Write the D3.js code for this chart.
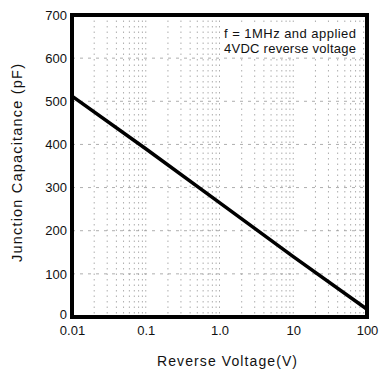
<!DOCTYPE html>
<html><head><meta charset="utf-8">
<script src="https://cdn.jsdelivr.net/npm/d3@7"></script>
<style>body{margin:0;background:#fff}text{font-family:"Liberation Sans",Arial,sans-serif;fill:#111}</style>
</head><body>
<script>
const voltage = [0.01, 0.1, 1, 10, 100];
const capacitance = [512, 390, 265, 140, 18];
const xTicks = [0.01, 0.1, 1, 10, 100];
const xTickLabels = ["0.01", "0.1", "1.0", "10", "100"];
const yTicks = [0, 100, 200, 300, 400, 500, 600, 700];
const noteLines = ["f = 1MHz and applied", "4VDC reverse voltage"];

const W = 379, H = 383;
const svg = d3.select("body").append("svg").attr("width", W).attr("height", H);
const x = d3.scaleLog().domain([0.01, 100]).range([72, 367]);
const y = d3.scaleLinear().domain([0, 700]).range([317, 15]);
const F = "Liberation Sans, Arial, sans-serif";

// grid
const g = svg.append("g");
const minor = [];
for (let d = 0.01; d < 100; d *= 10) for (let k = 1; k < 10; k++) minor.push(d * k);
g.selectAll("line.v").data(minor.filter(v => v > 0.01)).enter().append("line")
  .attr("x1", d => x(d)).attr("x2", d => x(d)).attr("y1", y(700)).attr("y2", y(0))
  .attr("stroke", "#999").attr("stroke-width", 0.8).attr("stroke-dasharray", "1.5,4");
g.selectAll("line.h").data(yTicks.slice(1, -1)).enter().append("line")
  .attr("x1", x(0.01)).attr("x2", x(100)).attr("y1", d => y(d)).attr("y2", d => y(d))
  .attr("stroke", "#999").attr("stroke-width", 0.8).attr("stroke-dasharray", "3,5");

// axes
const xa = svg.append("g").attr("transform", `translate(0,${y(0)})`)
  .call(d3.axisBottom(x).tickValues(xTicks).tickFormat((d, i) => xTickLabels[i]).tickSize(0).tickPadding(9));
xa.select(".domain").remove();
xa.selectAll("text").attr("font-size", 13).attr("fill", "#111").attr("font-family", F);
const ya = svg.append("g").attr("transform", `translate(${x(0.01)},0)`)
  .call(d3.axisLeft(y).tickValues(yTicks).tickSize(0).tickPadding(5));
ya.select(".domain").remove();
ya.selectAll("text").attr("font-size", 13).attr("fill", "#111").attr("font-family", F)
  .attr("dy", d => d === 0 ? "0.1em" : "0.32em");

// frame
svg.append("rect").attr("x", x(0.01)).attr("y", y(700)).attr("width", x(100) - x(0.01)).attr("height", y(0) - y(700))
  .attr("fill", "none").attr("stroke", "#000").attr("stroke-width", 4);

// line
svg.append("path").datum(voltage.map((v, i) => [v, capacitance[i]]))
  .attr("d", d3.line().x(d => x(d[0])).y(d => y(d[1])))
  .attr("fill", "none").attr("stroke", "#000").attr("stroke-width", 3.5);

// note
svg.append("rect").attr("x", 221).attr("y", 25).attr("width", 140).attr("height", 32).attr("fill", "#fff");
svg.selectAll("text.note").data(noteLines).enter().append("text").attr("class", "note")
  .attr("x", 224).attr("y", (d, i) => 38 + i * 15).attr("font-size", 13).attr("textLength", 132).text(d => d);

// titles
svg.append("text").attr("x", 227).attr("y", 366).attr("text-anchor", "middle").attr("font-size", 14).attr("textLength", 140).text("Reverse Voltage(V)");
svg.append("text").attr("transform", "translate(22,163) rotate(-90)").attr("text-anchor", "middle").attr("font-size", 14.5).attr("textLength", 198).text("Junction Capacitance  (pF)");
</script>
</body></html>
